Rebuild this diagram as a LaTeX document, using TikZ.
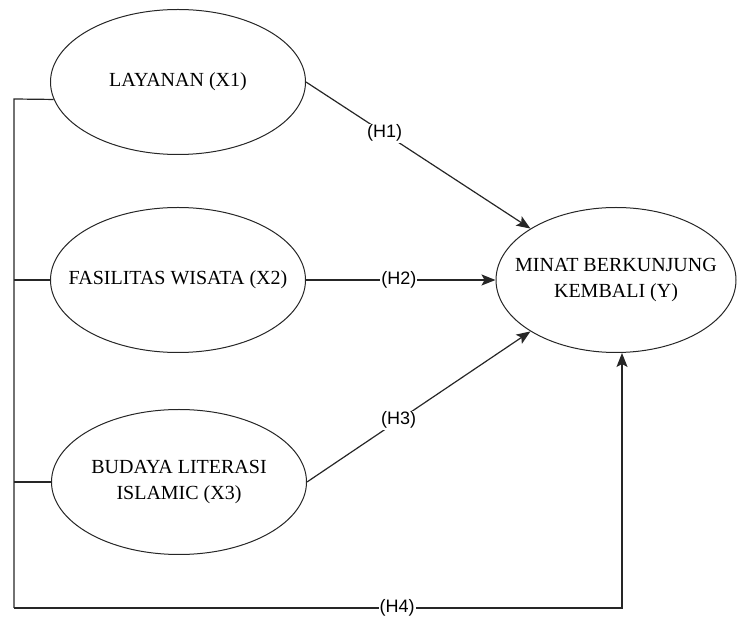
\documentclass[tikz,border=0pt]{standalone}
\usepackage{fontspec}
\setmainfont{Liberation Serif}
\newfontfamily\lblfont{Liberation Sans}
\usetikzlibrary{shapes.geometric,arrows.meta}
\begin{document}
\begin{tikzpicture}[x=1pt,y=-1pt,
  var/.style={draw=black!85,line width=1pt,ellipse,inner sep=0pt,
    minimum width=255pt,minimum height=145pt},
  vtxt/.style={align=center,font=\fontsize{20}{26}\selectfont},
  conn/.style={draw=black!85,line width=1.2pt},
  arr/.style={conn,-{Stealth[length=14pt,width=11pt,inset=3pt]}},
  hlab/.style={fill=white,inner sep=1pt,font=\lblfont\fontsize{18}{20}\selectfont}]
\useasboundingbox (0,0) rectangle (740,617);
\node[var,label={[vtxt]center:LAYANAN (X1)}] (e1) at (178,82) {};
\node[var,label={[vtxt]center:FASILITAS WISATA (X2)}] (e2) at (178,280) {};
\node[var,label={[vtxt]center:{BUDAYA LITERASI\\ISLAMIC (X3)}}] (e3) at (179,482) {};
\node[var,minimum width=240pt,label={[vtxt]center:{MINAT BERKUNJUNG\\KEMBALI (Y)}}] (ey) at (616,280) {};
\coordinate (tl) at (14,99);
\coordinate (bl) at (14,608);
\coordinate (br) at (622,608);
\draw[conn] (e1.188) -- (tl) -- (bl);
\draw[conn] (e2.west) -- (e2.west -| tl);
\draw[conn] (e3.west) -- (e3.west -| tl);
\draw[arr] (e1.east) -- node[hlab,pos=0.35] {(H1)} (ey.149);
\draw[arr] (e2.east) -- node[hlab,pos=0.49] {(H2)} (ey.west);
\draw[arr] (e3.east) -- node[hlab,pos=0.41] {(H3)} (ey.211);
\draw[arr] (bl) -- node[hlab,pos=0.63] {(H4)} (br) -- (br |- ey.south);
\end{tikzpicture}
\end{document}
